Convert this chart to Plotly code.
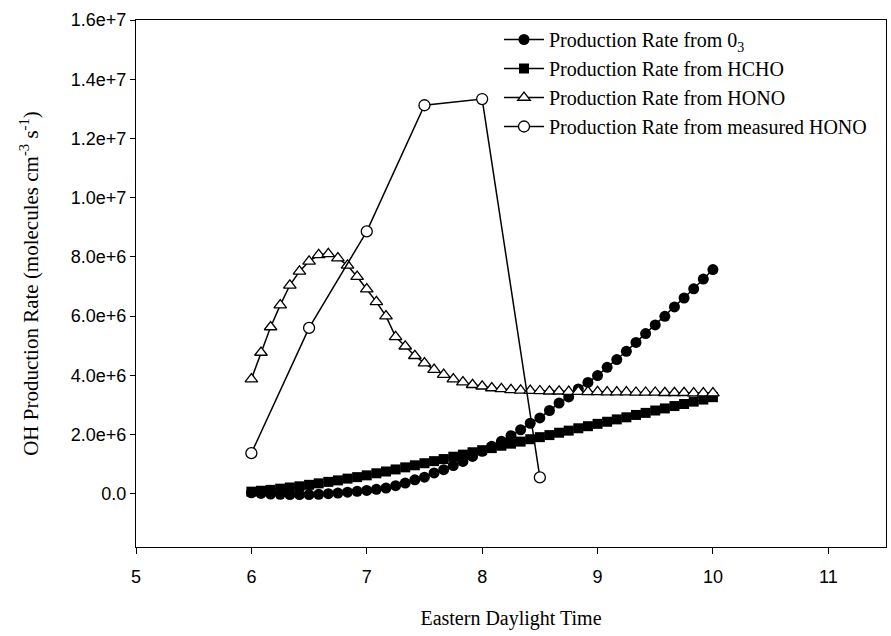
import plotly.graph_objects as go

# Time axis: 5-minute steps from 06:00 to 10:00 EDT (hours as decimals)
time_model = [6 + k / 12 for k in range(49)]

# OH production rate from O3 photolysis (molecules cm^-3 s^-1, in units of 1e6)
rate_o3 = [0.03, 0.01, -0.01, -0.02, -0.03, -0.03, -0.03, -0.02, 0.00, 0.02,
           0.05, 0.08, 0.11, 0.15, 0.19, 0.27, 0.36, 0.47, 0.56, 0.70,
           0.81, 0.95, 1.09, 1.26, 1.43, 1.60, 1.77, 1.96, 2.16, 2.38,
           2.56, 2.81, 3.06, 3.27, 3.54, 3.76, 3.99, 4.27, 4.53, 4.81,
           5.11, 5.41, 5.70, 5.99, 6.31, 6.61, 6.92, 7.25, 7.57]

# OH production rate from HCHO photolysis
rate_hcho = [0.07, 0.10, 0.13, 0.17, 0.21, 0.25, 0.30, 0.35, 0.40, 0.45,
             0.51, 0.56, 0.62, 0.69, 0.75, 0.82, 0.89, 0.96, 1.03, 1.10,
             1.17, 1.25, 1.32, 1.40, 1.47, 1.54, 1.62, 1.69, 1.76, 1.84,
             1.91, 1.98, 2.06, 2.13, 2.21, 2.28, 2.36, 2.43, 2.51, 2.58,
             2.66, 2.73, 2.81, 2.88, 2.96, 3.03, 3.11, 3.18, 3.26]

# OH production rate from modelled HONO photolysis
rate_hono = [3.87, 4.77, 5.63, 6.37, 7.04, 7.51, 7.85, 8.07, 8.10, 7.96,
             7.71, 7.33, 6.91, 6.48, 6.00, 5.30, 4.98, 4.66, 4.41, 4.19,
             4.02, 3.87, 3.77, 3.68, 3.63, 3.57, 3.54, 3.51, 3.49, 3.48,
             3.47, 3.46, 3.46, 3.45, 3.45, 3.44, 3.44, 3.43, 3.43, 3.43,
             3.42, 3.42, 3.42, 3.41, 3.41, 3.41, 3.40, 3.40, 3.40]

# OH production rate from measured HONO (half-hourly)
time_meas = [6.0, 6.5, 7.0, 7.5, 8.0, 8.5]
rate_meas = [1.37, 5.60, 8.86, 13.12, 13.33, 0.55]

x_ticks = [5, 6, 7, 8, 9, 10, 11]
y_tickvals = [0, 2e6, 4e6, 6e6, 8e6, 1.0e7, 1.2e7, 1.4e7, 1.6e7]
y_ticktext = ["0.0", "2.0e+6", "4.0e+6", "6.0e+6", "8.0e+6",
              "1.0e+7", "1.2e+7", "1.4e+7", "1.6e+7"]

scale = 1e6
line = dict(color="black", width=1.5)

fig = go.Figure()
fig.add_trace(go.Scatter(
    x=time_model, y=[v * scale for v in rate_o3], mode="lines+markers",
    name="Production Rate from 0<sub>3</sub>", line=line,
    marker=dict(symbol="circle", size=11, color="black")))
fig.add_trace(go.Scatter(
    x=time_model, y=[v * scale for v in rate_hcho], mode="lines+markers",
    name="Production Rate from HCHO", line=line,
    marker=dict(symbol="square", size=10, color="black")))
fig.add_trace(go.Scatter(
    x=time_model, y=[v * scale for v in rate_hono], mode="lines+markers",
    name="Production Rate from HONO", line=line,
    marker=dict(symbol="triangle-up", size=11, color="white",
                line=dict(color="black", width=1.3))))
fig.add_trace(go.Scatter(
    x=time_meas, y=[v * scale for v in rate_meas], mode="lines+markers",
    name="Production Rate from measured HONO", line=line,
    marker=dict(symbol="circle", size=11, color="white",
                line=dict(color="black", width=1.3))))

tick_font = dict(family="Liberation Sans, Arial", size=18, color="black")
serif = "Liberation Serif, Times New Roman"

fig.update_layout(
    width=891, height=636,
    margin=dict(l=136, r=5, t=20, b=89),
    paper_bgcolor="white", plot_bgcolor="white",
    showlegend=True,
    legend=dict(x=0.484, y=1.0, xanchor="left", yanchor="top",
                bgcolor="rgba(0,0,0,0)", borderwidth=0,
                font=dict(family=serif, size=20, color="black"),
                tracegroupgap=0, itemwidth=40),
    xaxis=dict(range=[5, 11.5], tickvals=x_ticks, ticks="outside", ticklen=6,
               tickcolor="black", showline=True, linecolor="black", linewidth=1,
               mirror=True, showgrid=False, zeroline=False, tickfont=tick_font,
               ticklabelstandoff=7,
               title=dict(text="Eastern Daylight Time",
                          font=dict(family=serif, size=20, color="black"),
                          standoff=25)),
    yaxis=dict(range=[-1.8e6, 1.6e7], tickvals=y_tickvals, ticktext=y_ticktext,
               ticks="outside", ticklen=5, tickcolor="black", showline=True,
               linecolor="black", linewidth=1, mirror=True, showgrid=False,
               zeroline=False, tickfont=tick_font,
               title=dict(text="OH Production Rate (molecules cm<sup>-3</sup> s<sup>-1</sup>)",
                          font=dict(family=serif, size=21, color="black"),
                          standoff=26)),
)

fig.write_html("out.html")
